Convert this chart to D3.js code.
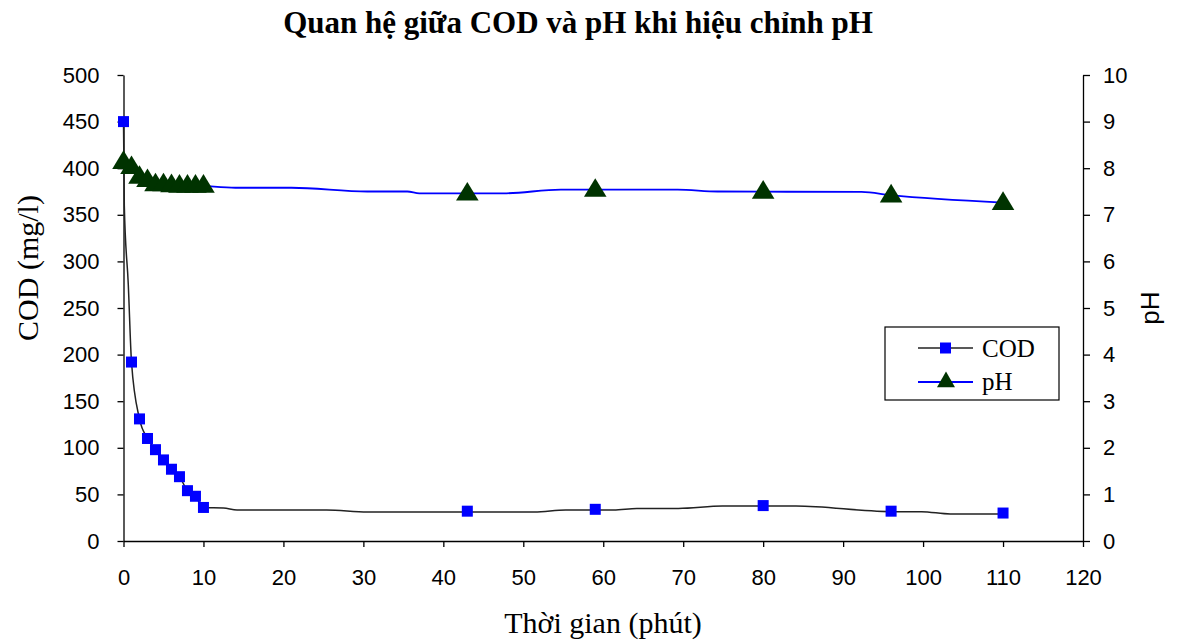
<!DOCTYPE html>
<html>
<head>
<meta charset="utf-8">
<script src="https://cdn.jsdelivr.net/npm/d3@7"></script>
<style>
  body { margin: 0; background: #fff; }
  svg { display: block; }
</style>
</head>
<body>
<svg id="chart"></svg>
<script>
var width = 1178;
var height = 642;

// marker points
var times = [0, 1, 2, 3, 4, 5, 6, 7, 8, 9, 10, 43, 59, 80, 96, 110];
var codValues = [450, 192, 131, 110, 98, 87, 77, 69, 54, 48, 36, 32, 34, 38, 32, 30];
var phValues = [8.14, 8.03, 7.82, 7.75, 7.66, 7.66, 7.64, 7.63, 7.63, 7.63, 7.63, 7.46, 7.54, 7.5, 7.42, 7.26];

// the lines run through more readings than the markers show
var codLineTimes = [0, 0.1, 0.6, 1, 2, 3, 4, 5, 6, 7, 8, 9, 10, 12.5, 14.2, 25.4, 30.5, 51.4, 55.3, 61.3, 64.2, 69.4, 74.9, 84.1, 96, 99.8, 103.4, 110];
var codLineValues = [450, 360, 275, 192, 131, 110, 98, 87, 77, 69, 54, 48, 36, 35.5, 33.3, 33.3, 31, 31, 33.3, 33.3, 35, 35, 37.5, 37.5, 31.5, 31.5, 29, 29];
var phLineTimes = [0, 1, 2, 3, 4, 5, 6, 7, 8, 9, 10, 14, 21, 30.5, 35.5, 37, 47.5, 54.7, 69.3, 74.3, 92.3, 96, 110];
var phLineValues = [8.14, 8.03, 7.82, 7.75, 7.66, 7.66, 7.64, 7.63, 7.63, 7.63, 7.62, 7.58, 7.58, 7.5, 7.5, 7.46, 7.46, 7.54, 7.54, 7.5, 7.49, 7.42, 7.26];

var xTicks = [0, 10, 20, 30, 40, 50, 60, 70, 80, 90, 100, 110, 120];
var codTicks = [0, 50, 100, 150, 200, 250, 300, 350, 400, 450, 500];
var phTicks = [0, 1, 2, 3, 4, 5, 6, 7, 8, 9, 10];

var svg = d3.select('#chart')
    .attr('width', width)
    .attr('height', height)

var x = d3.scaleLinear().domain([0, 120]).range([123.5, 1083]);
var yL = d3.scaleLinear().domain([0, 500]).range([541, 75]);
var yR = d3.scaleLinear().domain([0, 10]).range([541, 75]);

var tickFont = 'Liberation Sans, Arial, sans-serif';
var serif = 'Liberation Serif, Times New Roman, serif';

function styleAxis(g){
    g.selectAll('path').attr('stroke', '#000').attr('stroke-width', 1.3);
    g.selectAll('line').attr('stroke', '#000').attr('stroke-width', 1.3);
    g.selectAll('text').attr('font-family', tickFont).attr('font-size', 22).attr('fill', '#000');
}

var xAxis = svg.append('g')
    .attr('transform', 'translate(0,541)')
    .call(d3.axisBottom(x).tickValues(xTicks).tickSize(6).tickSizeOuter(0).tickPadding(22))
styleAxis(xAxis);

var yAxisL = svg.append('g')
    .attr('transform', 'translate(123.5,0)')
    .call(d3.axisLeft(yL).tickValues(codTicks).tickSize(6).tickSizeOuter(0).tickPadding(18))
styleAxis(yAxisL);

var yAxisR = svg.append('g')
    .attr('transform', 'translate(1083,0)')
    .call(d3.axisRight(yR).tickValues(phTicks).tickSize(7).tickSizeOuter(0).tickPadding(13))
styleAxis(yAxisR);

// lines
var codLine = d3.line()
    .x(function(d){ return x(d[0]); })
    .y(function(d){ return yL(d[1]); })
    .curve(d3.curveMonotoneX);
var phLine = d3.line()
    .x(function(d){ return x(d[0]); })
    .y(function(d){ return yR(d[1]); })
    .curve(d3.curveMonotoneX);

svg.append('path')
    .datum(d3.zip(codLineTimes, codLineValues))
    .attr('d', codLine)
    .attr('fill', 'none')
    .attr('stroke', '#222')
    .attr('stroke-width', 1.5)

svg.append('path')
    .datum(d3.zip(phLineTimes, phLineValues))
    .attr('d', phLine)
    .attr('fill', 'none')
    .attr('stroke', '#0000ff')
    .attr('stroke-width', 1.8)

// markers
var tri = d3.symbol().type(d3.symbolTriangle).size(200);

svg.selectAll('.ph-mark')
    .data(d3.zip(times, phValues))
    .enter()
    .append('path')
    .attr('class', 'ph-mark')
    .attr('d', tri)
    .attr('transform', function(d){ return 'translate(' + x(d[0]) + ',' + (yR(d[1]) + 1) + ') scale(1.05,1)'; })
    .style('fill', '#003300')

svg.selectAll('.cod-mark')
    .data(d3.zip(times, codValues))
    .enter()
    .append('rect')
    .attr('class', 'cod-mark')
    .attr('x', function(d){ return x(d[0]) - 5.5; })
    .attr('y', function(d){ return yL(d[1]) - 5.5; })
    .attr('width', 11)
    .attr('height', 11)
    .style('fill', '#0000ff')

// title and axis titles
svg.append('text')
    .attr('x', 578)
    .attr('y', 33)
    .attr('text-anchor', 'middle')
    .attr('font-family', serif)
    .attr('font-weight', 'bold')
    .attr('font-size', 31)
    .text('Quan hệ giữa COD và pH khi hiệu chỉnh pH')

svg.append('text')
    .attr('transform', 'translate(38,268) rotate(-90)')
    .attr('text-anchor', 'middle')
    .attr('font-family', serif)
    .attr('font-size', 30)
    .text('COD (mg/l)')

svg.append('text')
    .attr('transform', 'translate(1159,308) rotate(-90)')
    .attr('text-anchor', 'middle')
    .attr('font-family', tickFont)
    .attr('font-size', 26)
    .text('pH')

svg.append('text')
    .attr('x', 603)
    .attr('y', 633)
    .attr('text-anchor', 'middle')
    .attr('font-family', serif)
    .attr('font-size', 30)
    .text('Thời gian (phút)')

// legend
var legend = svg.append('g').attr('transform', 'translate(885,327)');
legend.append('rect')
    .attr('width', 174)
    .attr('height', 73)
    .attr('fill', '#fff')
    .attr('stroke', '#000')
    .attr('stroke-width', 1.2)

legend.append('line').attr('x1', 33).attr('x2', 88).attr('y1', 21).attr('y2', 21)
    .attr('stroke', '#222').attr('stroke-width', 1.5)
legend.append('rect').attr('x', 55).attr('y', 15.5).attr('width', 11).attr('height', 11)
    .style('fill', '#0000ff')
legend.append('text').attr('x', 97).attr('y', 30)
    .attr('font-family', serif).attr('font-size', 25).text('COD')

legend.append('line').attr('x1', 33).attr('x2', 88).attr('y1', 55).attr('y2', 55)
    .attr('stroke', '#0000ff').attr('stroke-width', 1.8)
legend.append('path').attr('d', d3.symbol().type(d3.symbolTriangle).size(140))
    .attr('transform', 'translate(61,55)')
    .style('fill', '#003300')
legend.append('text').attr('x', 97).attr('y', 63)
    .attr('font-family', serif).attr('font-size', 25).text('pH')
</script>
</body>
</html>
